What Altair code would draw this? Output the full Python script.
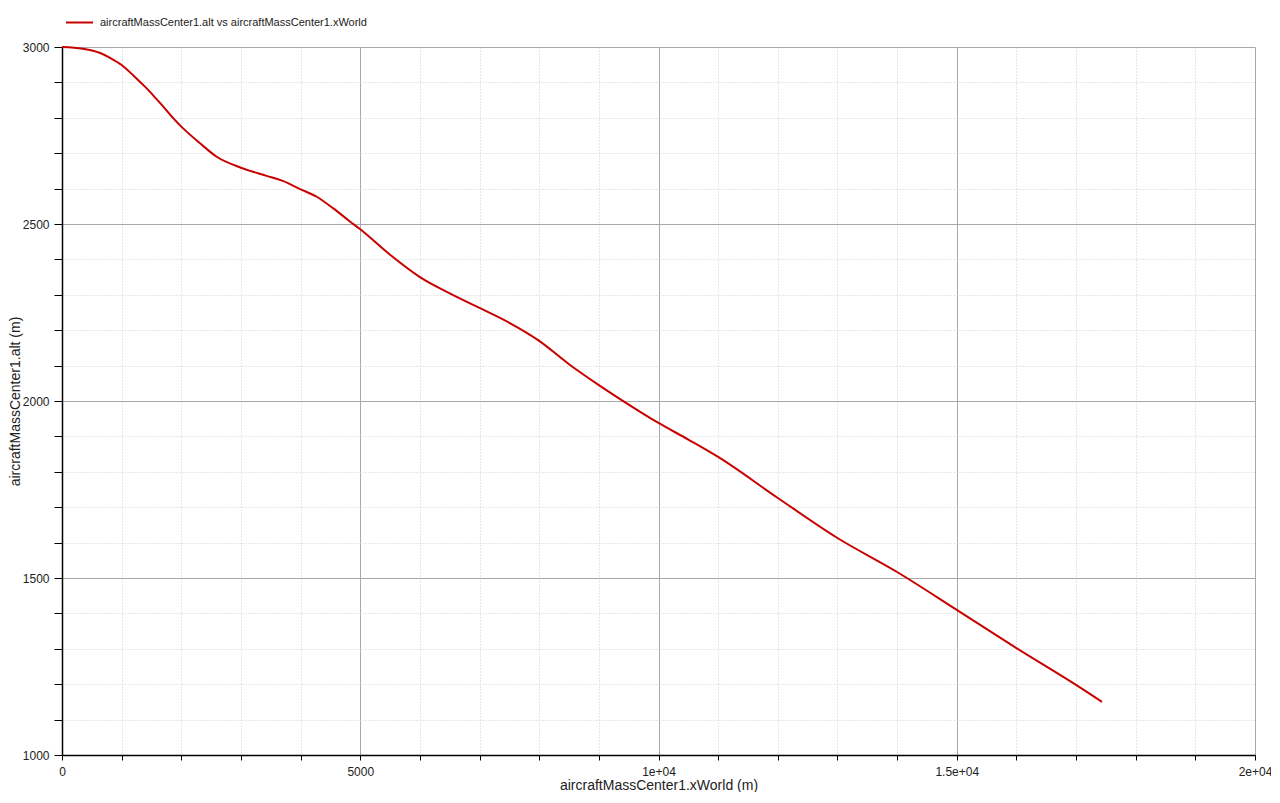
import altair as alt
import pandas as pd

# ---- data ----
x_world = [0, 350, 640, 820, 1000, 1200, 1420, 1590, 2000, 2314, 2593, 3000, 3431,
           3711, 4000, 4270, 4548, 4828, 5000, 5500, 6000, 6500, 7000, 7500, 8000,
           8500, 9000, 9500, 10000, 10500, 11000, 12000, 13000, 14000, 15000,
           16000, 17000, 17435]
alt_m = [3000, 2995, 2983, 2968, 2949, 2919, 2883, 2852, 2775, 2728, 2690, 2659, 2636,
         2621, 2598, 2577, 2544, 2507, 2485, 2413, 2350, 2304, 2263, 2221, 2170,
         2104, 2045, 1990, 1938, 1891, 1842, 1726, 1613, 1517, 1410,
         1302, 1198, 1150]
series_name = "aircraftMassCenter1.alt vs aircraftMassCenter1.xWorld"

x_tick_values = list(range(0, 20001, 1000))
y_tick_values = list(range(1000, 3001, 100))
x_major = [0, 5000, 10000, 15000, 20000]
x_major_labels = ["0", "5000", "1e+04", "1.5e+04", "2e+04"]
y_major = [1000, 1500, 2000, 2500, 3000]
y_major_labels = ["1000", "1500", "2000", "2500", "3000"]

df = pd.DataFrame({"x": x_world, "y": alt_m, "s": [series_name] * len(x_world)})


def label_expr(values, labels):
    expr = "''"
    for v, l in reversed(list(zip(values, labels))):
        expr = f"datum.value === {v} ? '{l}' : ({expr})"
    return expr


FONT = "Liberation Sans"

x_axis = alt.Axis(
    values=x_tick_values,
    labelExpr=label_expr(x_major, x_major_labels),
    labelOverlap=False,
    labelFlush=False,
    labelPadding=6,
    labelFontSize=12,
    labelColor="#222222",
    tickSize=5,
    tickColor="#000000",
    domainColor="#000000",
    domainWidth=1.5,
    grid=True,
    gridColor={"condition": {"test": "datum.value % 5000 === 0", "value": "#a8a8a8"}, "value": "#cfcfcf"},
    gridDash={"condition": {"test": "datum.value % 5000 === 0", "value": []}, "value": [1, 2]},
    gridWidth=1,
    title="aircraftMassCenter1.xWorld (m)",
    titleFontSize=14,
    titleFontWeight="normal",
    titleColor="#222222",
    titleX=596.5,
    titleY=34,
    titleAlign="center",
    titleBaseline="alphabetic",
)

y_axis = alt.Axis(
    values=y_tick_values,
    labelExpr=label_expr(y_major, y_major_labels),
    labelOverlap=False,
    labelFlush=False,
    labelPadding=5,
    labelFontSize=12,
    labelColor="#222222",
    tickSize=8,
    tickColor="#000000",
    domainColor="#000000",
    domainWidth=1.5,
    grid=True,
    gridColor={"condition": {"test": "datum.value % 500 === 0", "value": "#a8a8a8"}, "value": "#cfcfcf"},
    gridDash={"condition": {"test": "datum.value % 500 === 0", "value": []}, "value": [1, 2]},
    gridWidth=1,
    title="aircraftMassCenter1.alt (m)",
    titleFontSize=14,
    titleFontWeight="normal",
    titleColor="#222222",
    titleX=-40,
    titleY=354,
    titleAngle=270,
    titleAlign="center",
    titleBaseline="bottom",
)

chart = (
    alt.Chart(df)
    .mark_line(strokeWidth=2, interpolate="monotone")
    .encode(
        x=alt.X("x:Q", scale=alt.Scale(domain=[0, 20000], nice=False, zero=False), axis=x_axis),
        y=alt.Y("y:Q", scale=alt.Scale(domain=[1000, 3000], nice=False, zero=False), axis=y_axis),
        color=alt.Color(
            "s:N",
            scale=alt.Scale(domain=[series_name], range=["#c80000"]),
            legend=alt.Legend(
                title=None,
                orient="none",
                legendX=3,
                legendY=-39,
                padding=0,
                symbolType="stroke",
                symbolSize=729,
                symbolStrokeWidth=2,
                labelOffset=6,
                labelFontSize=11,
                labelColor="#222222",
                labelFont=FONT,
                labelLimit=600,
            ),
        ),
    )
    .properties(
        width=1193,
        height=708,
        autosize=alt.AutoSizeParams(type="none"),
        padding={"left": 54, "top": 39, "right": 16, "bottom": 37},
        background="white",
    )
    .configure_view(strokeWidth=0)
    .configure_axis(labelFont=FONT, titleFont=FONT)
    .configure_legend(labelFont=FONT)
)

chart.save("out.html", embed_options={"renderer": "svg", "actions": False})
